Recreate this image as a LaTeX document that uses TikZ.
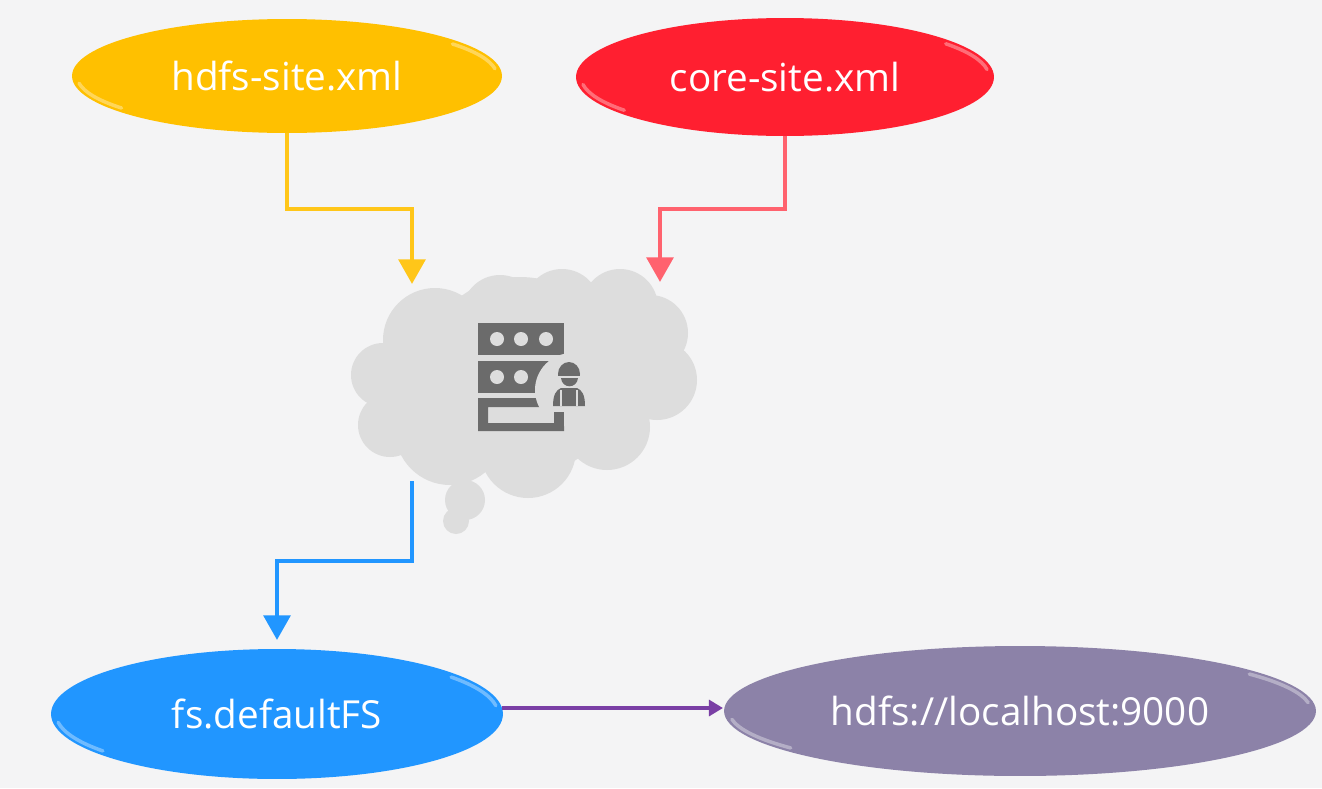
\documentclass[tikz,border=0pt]{standalone}
\usepackage{fontspec}
\setmainfont{Open Sans}
\usetikzlibrary{shapes.geometric,arrows.meta}
\definecolor{bggray}{HTML}{F4F4F5}
\definecolor{cloudgray}{HTML}{DDDDDD}
\definecolor{icongray}{HTML}{6B6B6B}
\definecolor{hdfsyellow}{HTML}{FFC000}
\definecolor{corered}{HTML}{FF1F30}
\definecolor{fsblue}{HTML}{2196FF}
\definecolor{urlpurple}{HTML}{8C82A8}
\definecolor{arrowpurple}{HTML}{7A3FA5}
\tikzset{
  xmlnode/.style={ellipse,inner sep=0pt,outer sep=0pt,text=white,font=\fontsize{22}{26}\selectfont},
  flow/.style={line width=2.7pt,-{Triangle[width=15pt,length=14pt]}},
}
\newcommand{\bevel}[5]{% cx, cy, rx, ry, colour
  \draw[#5!65!white,line width=2pt,line cap=round] (#1,#2) ++(-8:#3-5 and #4-5) arc[start angle=-8,end angle=-38,x radius=#3-5,y radius=#4-5];
  \draw[#5!65!white,line width=2pt,line cap=round] (#1,#2) ++(172:#3-5 and #4-5) arc[start angle=172,end angle=142,x radius=#3-5,y radius=#4-5];
}
\begin{document}
\begin{tikzpicture}[x=0.02cm,y=-0.02cm]
\useasboundingbox (0,0) rectangle (1322,788);
\fill[bggray] (0,0) rectangle (1322,788);

% cloud
\foreach \x/\y/\r in {435/340/52,500/313/38,562/307/38,620/307/38,650/333/38,657/380/40,607/427/43,528/450/48,450/430/55,390/425/32,383/375/32,520/377/100,590/377/70,450/380/60,465/500/20,456/521/13}{
\fill[cloudgray] (\x,\y) circle[radius=\r];
}

% server icon
\fill[icongray] (478,323) rectangle (564,355);
\fill[icongray] (478,361) rectangle (564,393);
\fill[icongray,even odd rule] (478,398) rectangle (564,431) (488,407) rectangle (554,423);
\foreach \x in {497,521,546}{
\fill[cloudgray] (\x,339) circle[radius=7];
}
\foreach \x in {497,521}{
\fill[cloudgray] (\x,377) circle[radius=7];
}
\fill[cloudgray] (572,390) circle[radius=37];
\fill[icongray] (554,412) rectangle (564,431);
\fill[icongray] (488,423) rectangle (564,431);

% worker
\fill[icongray] (558,374) arc[start angle=180,end angle=360,x radius=11,y radius=12] -- cycle;
\fill[icongray] (558,374) rectangle (580,376);
\fill[icongray] (561,378) .. controls (562,389) and (577,389) .. (578,378) -- cycle;
\fill[icongray] (553,406) .. controls (553,395) and (556,390) .. (561,388) -- (577,388) .. controls (582,390) and (585,395) .. (585,406) -- cycle;
\draw[cloudgray,line width=0.6pt] (561,390) -- (561,406) (577,390) -- (577,406);

% config files
\node[xmlnode,fill=hdfsyellow,minimum width=8.6cm,minimum height=2.28cm] (hdfs) at (287,76) {hdfs-site.xml};
\node[xmlnode,fill=corered,minimum width=8.36cm,minimum height=2.36cm] (core) at (785,77) {core-site.xml};
\node[xmlnode,fill=fsblue,minimum width=9.04cm,minimum height=2.6cm] (fs) at (277,714) {fs.defaultFS};
\node[xmlnode,fill=urlpurple,minimum width=11.84cm,minimum height=2.6cm] (url) at (1020,711) {hdfs://localhost:9000};
\bevel{287}{76}{215}{57}{hdfsyellow}
\bevel{785}{77}{209}{59}{corered}
\bevel{277}{714}{226}{65}{fsblue}
\bevel{1020}{711}{296}{65}{urlpurple}

\coordinate (hdfsbend) at (412,209);
\coordinate (cloudleft) at (412,284);
\coordinate (corebend) at (660,209);
\coordinate (cloudright) at (660,282);
\coordinate (cloudout) at (412,481);
\coordinate (fsbend) at (412,561);
\coordinate (fsin) at (277,640);
\coordinate (urlin) at (723,708);
\coordinate (fsout) at (502,708);

\draw[flow,hdfsyellow!90!white] (hdfs.south) |- (hdfsbend) -- (cloudleft);
\draw[flow,corered!70!white] (core.south) |- (corebend) -- (cloudright);
\draw[flow,fsblue] (cloudout) -- (fsbend) -| (fsin);
\draw[line width=2.4pt,-{Triangle[width=9pt,length=8pt]},arrowpurple] (fsout) -- (urlin);
\end{tikzpicture}
\end{document}
